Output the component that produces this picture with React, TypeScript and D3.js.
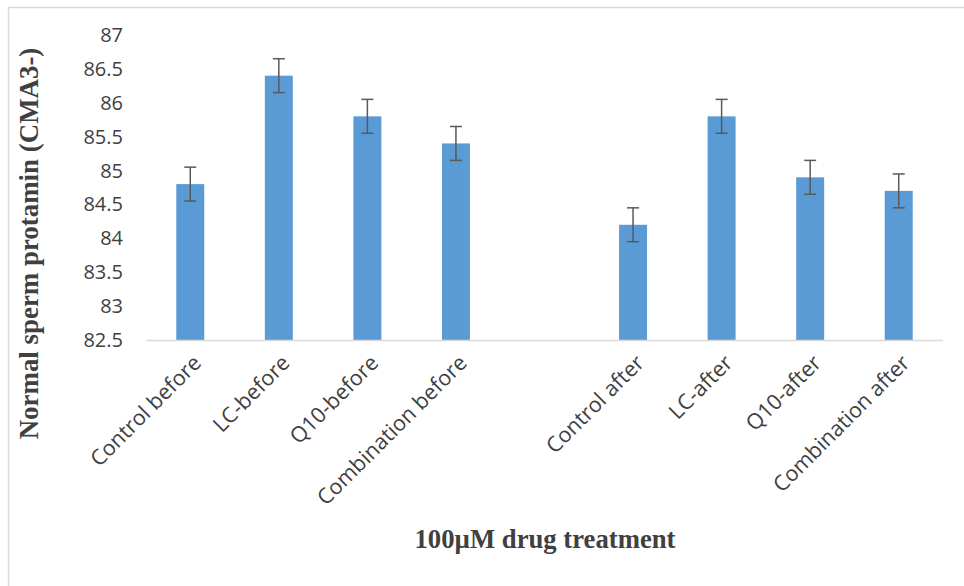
import React from "react";
import * as d3 from "d3";

const categories = [
  "Control before",
  "LC-before",
  "Q10-before",
  "Combination before",
  "",
  "Control after",
  "LC-after",
  "Q10-after",
  "Combination after",
];
const values: (number | null)[] = [84.8, 86.4, 85.8, 85.4, null, 84.2, 85.8, 84.9, 84.7];
const errors: (number | null)[] = [0.25, 0.25, 0.25, 0.25, null, 0.25, 0.25, 0.25, 0.25];
const yTicks = [82.5, 83, 83.5, 84, 84.5, 85, 85.5, 86, 86.5, 87];
const yTitle = "Normal sperm protamin (CMA3-)";
const xTitle = "100µM drug treatment";

const W = 964;
const H = 586;
const left = 146;
const right = 943;
const top = 35;
const bottom = 340;

export default function App() {
  const keys = categories.map((c, i) => `${i}`);
  const x = d3
    .scaleBand<string>()
    .domain(keys)
    .range([left, right])
    .paddingInner(0.684)
    .paddingOuter(0.342);
  const y = d3.scaleLinear().domain([82.5, 87]).range([bottom, top]);
  const bw = x.bandwidth();
  const labelFont = "'Open Sans', 'Liberation Sans', sans-serif";
  const titleFont = "'Liberation Serif', 'Times New Roman', serif";

  return (
    <svg
      width={W}
      height={H}
      style={{ position: "absolute", left: 0, top: 0, background: "#fff" }}
    >
      <line x1={8.5} y1={7.5} x2={W} y2={7.5} stroke="#d9d9d9" strokeWidth={1.5} />
      <line x1={8.5} y1={7.5} x2={8.5} y2={H} stroke="#d9d9d9" strokeWidth={1.5} />

      {yTicks.map((t) => (
        <text
          key={t}
          x={123}
          y={y(t)}
          dy="0.35em"
          textAnchor="end"
          fontFamily={labelFont}
          fontSize={20}
          fill="#404040"
        >
          {t}
        </text>
      ))}

      {categories.map((c, i) => {
        const v = values[i];
        if (v == null) return null;
        const x0 = x(keys[i])!;
        const cx = x0 + bw / 2;
        const e = errors[i] ?? 0;
        return (
          <g key={i}>
            <rect
              x={x0}
              y={y(v)}
              width={bw}
              height={bottom - y(v)}
              fill="#5B9BD5"
            />
            <line x1={cx} x2={cx} y1={y(v + e)} y2={y(v - e)} stroke="#595959" strokeWidth={1.5} />
            <line x1={cx - 6} x2={cx + 6} y1={y(v + e)} y2={y(v + e)} stroke="#595959" strokeWidth={1.5} />
            <line x1={cx - 6} x2={cx + 6} y1={y(v - e)} y2={y(v - e)} stroke="#595959" strokeWidth={1.5} />
          </g>
        );
      })}

      <line x1={left} x2={right} y1={bottom + 0.5} y2={bottom + 0.5} stroke="#d9d9d9" strokeWidth={1.5} />

      {categories.map((c, i) => {
        if (!c) return null;
        const cx = x(keys[i])! + bw / 2;
        return (
          <text
            key={i}
            transform={`translate(${cx + 7},${bottom + 19}) rotate(-45)`}
            textAnchor="end"
            dy="0.35em"
            fontFamily={labelFont}
            fontSize={21.5}
            fill="#404040"
          >
            {c}
          </text>
        );
      })}

      <text
        x={545}
        y={548}
        textAnchor="middle"
        fontFamily={titleFont}
        fontWeight="bold"
        fontSize={26.7}
        fill="#404040"
      >
        {xTitle}
      </text>
      <text
        transform={`translate(37.5,243.5) rotate(-90)`}
        textAnchor="middle"
        fontFamily={titleFont}
        fontWeight="bold"
        fontSize={26.9}
        fill="#404040"
      >
        {yTitle}
      </text>
    </svg>
  );
}
